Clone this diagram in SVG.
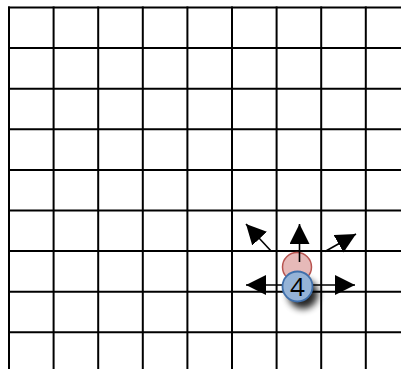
<svg xmlns="http://www.w3.org/2000/svg" width="401" height="369" viewBox="0 0 401 369">
<style>
.grid line{stroke:#000;stroke-width:2}
.arr{stroke:#000;stroke-width:1.6;fill:none;marker-end:url(#ah)}
.lbl{font-family:"Open Sans","Liberation Sans",Arial,sans-serif;font-size:26px;fill:#000;text-anchor:middle}
</style>
<defs>
<marker id="ah" markerUnits="userSpaceOnUse" markerWidth="20" markerHeight="20" refX="20" refY="10" orient="auto" viewBox="0 0 20 20">
<path d="M0,0 L20,10 L0,20 Z" fill="#000"/>
</marker>
<filter id="sh" x="-50%" y="-50%" width="200%" height="200%">
<feGaussianBlur stdDeviation="3.5"/>
</filter>
</defs>
<rect width="401" height="369" fill="#fff"/>
<g class="grid" id="grid">
<line x1="9" y1="6.5" x2="9" y2="369"/>
<line x1="53.6" y1="6.5" x2="53.6" y2="369"/>
<line x1="98.2" y1="6.5" x2="98.2" y2="369"/>
<line x1="142.8" y1="6.5" x2="142.8" y2="369"/>
<line x1="187.4" y1="6.5" x2="187.4" y2="369"/>
<line x1="232" y1="6.5" x2="232" y2="369"/>
<line x1="276.6" y1="6.5" x2="276.6" y2="369"/>
<line x1="321.2" y1="6.5" x2="321.2" y2="369"/>
<line x1="365.8" y1="6.5" x2="365.8" y2="369"/>
<line x1="8" y1="7.5" x2="401" y2="7.5"/>
<line x1="8" y1="48.1" x2="401" y2="48.1"/>
<line x1="8" y1="88.7" x2="401" y2="88.7"/>
<line x1="8" y1="129.3" x2="401" y2="129.3"/>
<line x1="8" y1="169.9" x2="401" y2="169.9"/>
<line x1="8" y1="210.5" x2="401" y2="210.5"/>
<line x1="8" y1="251.1" x2="401" y2="251.1"/>
<line x1="8" y1="291.7" x2="401" y2="291.7"/>
<line x1="8" y1="332.3" x2="401" y2="332.3"/>
</g>
<g id="prev">
<circle cx="297" cy="267" r="14.5" fill="#e6b9b8" stroke="#b85450" stroke-width="1.5"/>
</g>
<g id="connectors">
<line class="arr" x1="299.5" y1="262" x2="299.5" y2="224"/>
<line class="arr" x1="271.5" y1="251.5" x2="246" y2="224"/>
<line class="arr" x1="325" y1="251.5" x2="356" y2="234"/>
<line class="arr" x1="297" y1="285" x2="246" y2="285"/>
<line class="arr" x1="297" y1="285" x2="355" y2="285"/>
</g>
<g id="robot">
<circle cx="303" cy="294" r="15" fill="#000" opacity="0.85" filter="url(#sh)"/>
<circle cx="297.5" cy="286.5" r="15" fill="#95b3d7" stroke="#3f6fab" stroke-width="1.8"/>
<text class="lbl" x="297.5" y="295.5">4</text>
</g>
</svg>
